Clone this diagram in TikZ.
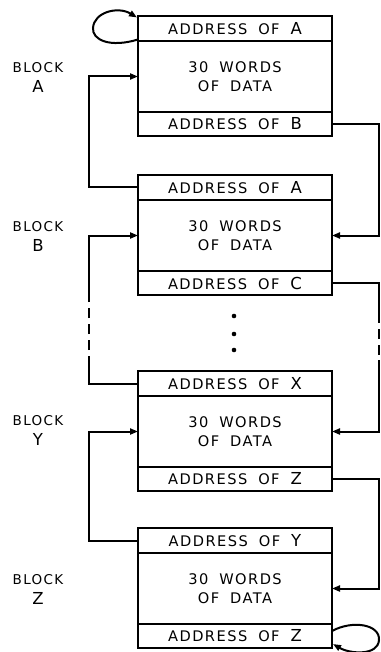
\documentclass[tikz,border=0pt]{standalone}
\usepackage{fontspec}
\setmainfont{DejaVu Sans}[LetterSpace=10,WordSpace=1.8]
\usetikzlibrary{arrows.meta,calc}
\begin{document}
\begin{tikzpicture}[x=1pt,y=-1pt,
  cell/.style={draw,line width=1.6pt,minimum width=194pt,inner sep=0pt,outer sep=0pt,anchor=north west,
    font=\fontsize{14.6}{19}\selectfont,align=center},
  head/.style={cell,minimum height=25pt},
  bodycell/.style={cell,minimum height=71pt},
  foot/.style={cell,minimum height=24pt},
  lbl/.style={align=center,font=\fontsize{13.5}{20}\selectfont},
  conn/.style={line width=2pt},
  arr/.style={conn,-{Triangle[length=8pt,width=6pt]}},
  dsh/.style={conn,dash pattern=on 10pt off 6pt}]
\useasboundingbox (0,0) rectangle (380,652);
\newcommand{\Lt}[1]{{\fontsize{16.5}{16}\selectfont #1}}
% block A
\node[head] (hA) at (138,16) {ADDRESS OF \Lt{A}};
\node[bodycell] (bA) at (hA.south west) {30 WORDS\\OF DATA};
\node[foot] (fA) at (bA.south west) {ADDRESS OF \Lt{B}};
% block B
\node[head] (hB) at (138,175) {ADDRESS OF \Lt{A}};
\node[bodycell] (bB) at (hB.south west) {30 WORDS\\OF DATA};
\node[foot] (fB) at (bB.south west) {ADDRESS OF \Lt{C}};
% block Y
\node[head] (hY) at (138,371) {ADDRESS OF \Lt{X}};
\node[bodycell] (bY) at (hY.south west) {30 WORDS\\OF DATA};
\node[foot] (fY) at (bY.south west) {ADDRESS OF \Lt{Z}};
% block Z
\node[head] (hZ) at (138,528) {ADDRESS OF \Lt{Y}};
\node[bodycell] (bZ) at (hZ.south west) {30 WORDS\\OF DATA};
\node[foot] (fZ) at (bZ.south west) {ADDRESS OF \Lt{Z}};
% labels
\node[lbl] (lA) at (38,77) {BLOCK\\\Lt{A}};
\node[lbl] (lB) at (38,236) {BLOCK\\\Lt{B}};
\node[lbl] (lY) at (38,430) {BLOCK\\\Lt{Y}};
\node[lbl] (lZ) at (38,589) {BLOCK\\\Lt{Z}};
% guide coordinates
\coordinate (lx) at (89,0);
\coordinate (rx) at (379,0);
\coordinate (ld1) at (89,366);
\coordinate (ld2) at (89,300);
\coordinate (rd1) at (379,313);
\coordinate (rd2) at (379,360);
% left connectors
\draw[arr] (hB.west) -- (hB.west -| lx) |- (bA.west);
\draw[conn] (hY.west) -- (hY.west -| lx) -- (ld1);
\draw[dsh] (ld1) -- (ld2);
\draw[arr] (ld2) |- (bB.west);
\draw[arr] (hZ.west) -- (hZ.west -| lx) |- (bY.west);
% right connectors
\draw[arr] (fA.east) -- (fA.east -| rx) |- (bB.east);
\draw[conn] (fB.east) -- (fB.east -| rx) -- (rd1);
\draw[dsh] (rd1) -- (rd2);
\draw[arr] (rd2) |- (bY.east);
\draw[arr] (fY.east) -- (fY.east -| rx) |- (bZ.east);
% self loops
\coordinate (sa) at ($(hA.west)+(0,11)$);
\coordinate (ea) at ($(hA.west)+(-1,-11)$);
\draw[arr] (sa) .. controls (110,48) and (92,40) .. (93,28) .. controls (94,12) and (118,6) .. (ea);
\coordinate (sz) at ($(fZ.east)+(0,-5)$);
\coordinate (ez) at ($(fZ.east)+(1,8)$);
\draw[arr] (sz) .. controls (352,620) and (380,624) .. (379,640) .. controls (378,656) and (350,654) .. (ez);
% dots
\fill (234,316) circle (2.3pt);
\fill (234,334) circle (2.3pt);
\fill (234,350) circle (2.3pt);
\end{tikzpicture}
\end{document}
